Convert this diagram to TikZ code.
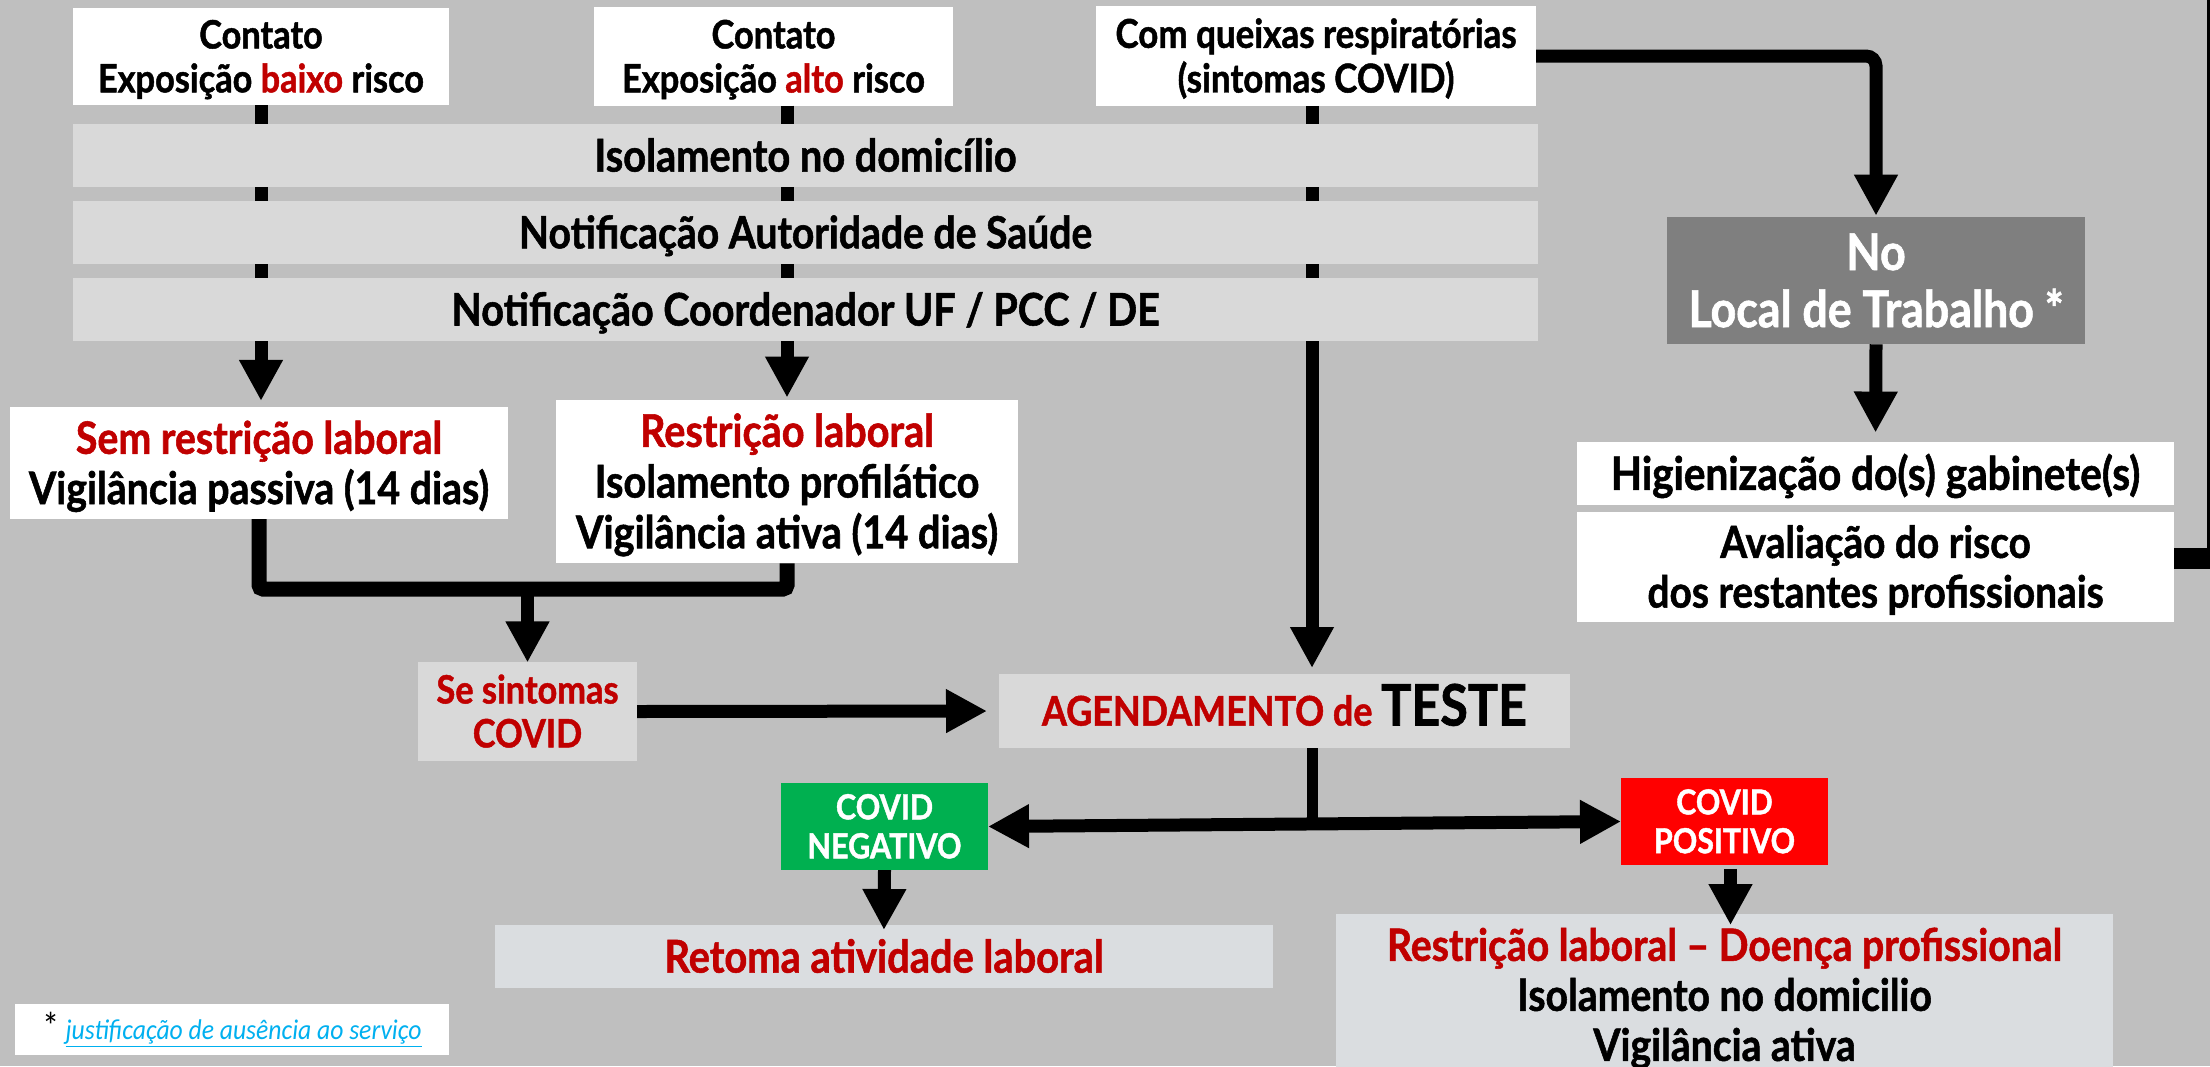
\documentclass[tikz,border=0pt]{standalone}
\usepackage{fontspec}
\setmainfont{Lato}[FakeStretch=0.88, BoldFeatures={FakeBold=1.2}]
\newfontfamily\fnfont{Carlito}[FakeStretch=0.9]
\usetikzlibrary{arrows.meta}
\definecolor{bgc}{RGB}{191,191,191}
\definecolor{band}{RGB}{217,217,217}
\definecolor{pale}{RGB}{218,221,224}
\definecolor{tred}{RGB}{192,0,0}
\definecolor{dgray}{RGB}{127,127,127}
\definecolor{gneg}{RGB}{0,176,80}
\definecolor{rpos}{RGB}{255,0,0}
\definecolor{lnk}{RGB}{0,176,240}
\newcommand\fitb[2]{\resizebox{#1}{!}{\fontsize{20}{22.5}\selectfont\bfseries\begin{tabular}{@{}c@{}}\rule{0pt}{21pt}#2\end{tabular}}}
\newcommand\redt[1]{\textcolor{tred}{#1}}
\begin{document}
\begin{tikzpicture}[x=1pt,y=-1pt,
  boxbase/.style={inner sep=0pt, outer sep=0pt, draw=none},
  wbox/.style={boxbase, fill=white, text=black},
  gbox/.style={boxbase, fill=band, text=black},
  pbox/.style={boxbase, fill=pale, text=black},
  arr/.style={line width=13pt, -{Triangle[length=41pt,width=41pt]}},
  arrtwo/.style={line width=13pt, {Triangle[length=41pt,width=41pt]}-{Triangle[length=41pt,width=41pt]}}]
\useasboundingbox (0,0) rectangle (2210,1066);
\clip (0,0) rectangle (2210,1066);
\fill[bgc] (0,0) rectangle (2210,1066);

% top boxes
\node[wbox, minimum width=376pt, minimum height=97pt] (c1) at (261,56.5)
  {\fitb{326pt}{Contato\\Exposição \redt{baixo} risco}};
\node[wbox, minimum width=359pt, minimum height=97pt] (c2) at (773.5,56.5)
  {\fitb{303pt}{Contato\\Exposição \redt{alto} risco}};
\node[wbox, minimum width=440pt, minimum height=96pt] (cq) at (1316,56)
  {\fitb{401pt}{Com queixas respiratórias\\(sintomas COVID)}};

% second row
\node[wbox, minimum width=498pt, minimum height=108pt] (sem) at (259,463)
  {\fitb{460pt}{\redt{Sem restrição laboral}\\Vigilância passiva (14 dias)}};
\node[wbox, minimum width=462pt, minimum height=153pt] (rl) at (787,481.5)
  {\fitb{422pt}{\redt{Restrição laboral}\\Isolamento profilático\\Vigilância ativa (14 dias)}};
\node[gbox, minimum width=571pt, minimum height=74pt] (ag) at (1284.5,711)
  {\fitb{485pt}{\redt{AGENDAMENTO de} {\fontsize{28}{30}\selectfont TESTE}}};

% connectors passing behind the bands
\coordinate (colq) at (1312,0);
\draw[arr, shorten >=6pt] (c1.south) -- (c1.south |- sem.north);
\draw[arr, shorten >=2pt] (rl.north |- c2.south) -- (rl.north);
\draw[arr, shorten >=6pt] (cq.south -| colq) -- (ag.north -| colq);

% bands
\node[gbox, minimum width=1465pt, minimum height=63pt] (iso) at (805.5,155.5)
  {\fitb{422pt}{Isolamento no domicílio}};
\node[gbox, minimum width=1465pt, minimum height=63pt] (not) at (805.5,232.5)
  {\fitb{573pt}{Notificação Autoridade de Saúde}};
\node[gbox, minimum width=1465pt, minimum height=63pt] (coo) at (805.5,309.5)
  {\fitb{708pt}{Notificação Coordenador UF / PCC / DE}};

% right column
\node[boxbase, fill=dgray, text=white, minimum width=418pt, minimum height=119pt] (nl) at (1876,280.5)
  {\fitb{375pt}{No\\Local de Trabalho *}};
\node[wbox, minimum width=597pt, minimum height=63pt] (hig) at (1875.5,473.5)
  {\fitb{529pt}{Higienização do(s) gabinete(s)}};
\node[wbox, minimum width=597pt, minimum height=108pt] (ava) at (1875.5,567)
  {\fitb{456pt}{Avaliação do risco\\dos restantes profissionais}};

% lower part
\node[gbox, text=tred, minimum width=219pt, minimum height=97pt] (ss) at (527.5,711.5)
  {\fitb{182pt}{Se sintomas\\COVID}};
\node[boxbase, fill=gneg, text=white, minimum width=207pt, minimum height=85pt] (neg) at (884.5,826.5)
  {\fitb{154pt}{COVID\\NEGATIVO}};
\node[boxbase, fill=rpos, text=white, minimum width=207pt, minimum height=85pt] (pos) at (1724.5,821.5)
  {\fitb{141pt}{COVID\\POSITIVO}};
\node[pbox, text=tred, minimum width=778pt, minimum height=63pt] (ret) at (884,956.5)
  {\fitb{439pt}{Retoma atividade laboral}};
\node[pbox, minimum width=777pt, minimum height=160pt] (rd) at (1724.5,995)
  {\fitb{675pt}{\redt{Restrição laboral – Doença profissional}\\Isolamento no domicilio\\Vigilância ativa}};
\node[wbox, minimum width=434pt, minimum height=51pt] (fn) at (232,1029.5)
  {\fnfont\resizebox{379pt}{!}{\fontsize{20}{24}\selectfont{\fontsize{27}{27}\selectfont*} \textcolor{lnk}{\itshape\underline{justificação de ausência ao serviço}}}};

% other connectors
\draw[arr, rounded corners=10pt, shorten >=1pt] (cq.east) -| (nl.north);
\draw[arr, shorten >=9pt] (nl.south) -- (hig.north);
\coordinate (mj) at (527.5,589);
\draw[line width=15pt, rounded corners=4pt] (sem.south) |- (rl.south |- mj) -- (rl.south);
\draw[arr] (mj) -- (ss.north);
\draw[arr, shorten >=12pt] (ss.east) -- (ag.west);
\coordinate (split) at (1312,824);
\draw[line width=11pt] (ag.south -| colq) -- (split);
\draw[arrtwo] (neg.east) -- (pos.west);
\draw[arr, shorten >=-5pt] (neg.south) -- (ret.north);
\draw[arr, shorten <=4pt, shorten >=-11pt] ([xshift=6pt]pos.south) -- ([xshift=6pt]pos.south |- rd.north);
\coordinate (offr) at (2217,-40);
\draw[line width=21pt] ([yshift=9pt]ava.east) -| (offr);
\end{tikzpicture}
\end{document}
